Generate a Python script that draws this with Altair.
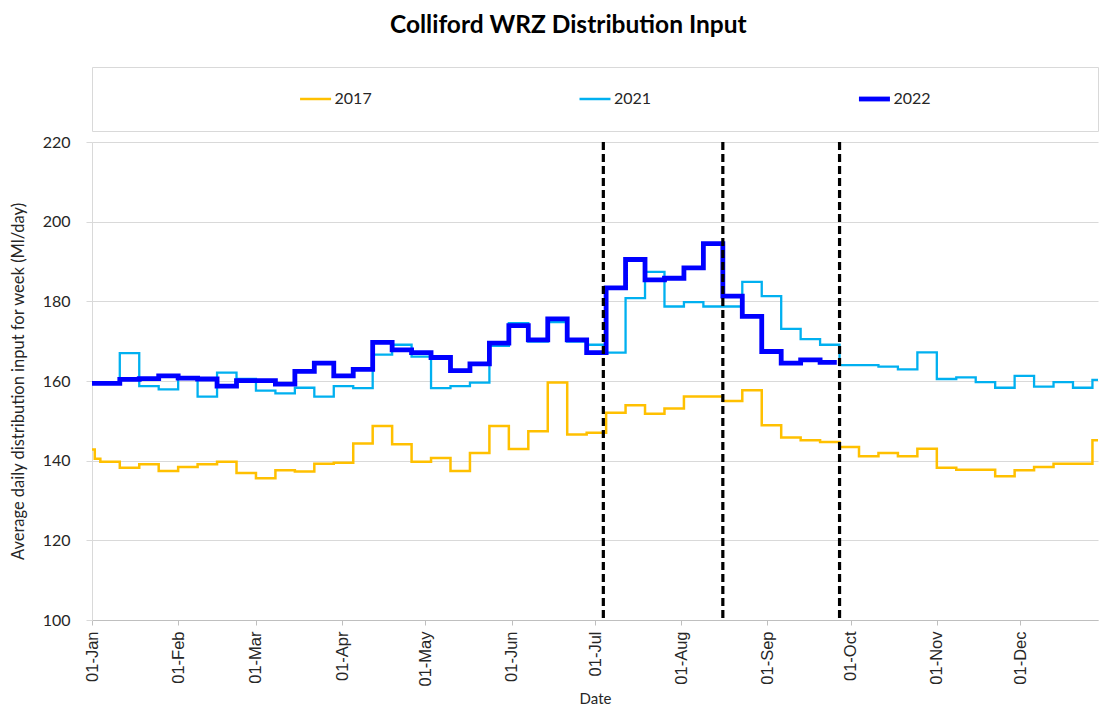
import altair as alt
import pandas as pd

chart_title = "Colliford WRZ Distribution Input"
y_title = "Average daily distribution input for week (Ml/day)"
x_title = "Date"

series_names = ["2017", "2021", "2022"]
series_colors = ["#FFC000", "#00B0F0", "#0000FF"]
series_widths = [2.5, 2.3, 4.8]

# weekly step start dates (Tuesday-starting weeks, mapped onto one calendar year)
week_starts = [d.strftime("%Y-%m-%dT00:00:00") for d in pd.date_range("2022-01-04", periods=52, freq="7D")]
year_start = "2022-01-01T00:00:00"
year_end = "2022-12-31T00:00:00"

# 2017: first days of January, then weekly values
head_2017_dates = ["2022-01-01T00:00:00", "2022-01-02T00:00:00"]
head_2017_values = [142.8, 140.5]
values_2017 = [139.7, 138.2, 139.1, 137.4, 138.4, 139.1, 139.7, 136.9, 135.6, 137.6,
               137.3, 139.2, 139.5, 144.3, 148.7, 144.1, 139.7, 140.7, 137.4, 141.9,
               148.7, 142.9, 147.4, 159.6, 146.6, 147.0, 152.0, 153.9, 151.8, 153.1,
               156.1, 156.1, 155.0, 157.7, 148.9, 145.8, 145.1, 144.7, 143.4, 141.1,
               141.9, 141.1, 143.0, 138.2, 137.7, 137.7, 136.1, 137.6, 138.4, 139.2,
               139.2, 145.1]

head_2021_value = 159.4
values_2021 = [159.4, 167.0, 158.7, 157.9, 160.7, 156.1, 162.1, 160.5, 157.6, 156.9,
               158.3, 156.1, 158.7, 158.2, 166.6, 169.1, 166.1, 158.2, 158.7, 159.6,
               168.8, 174.5, 169.9, 174.8, 169.9, 169.1, 167.1, 180.8, 187.4, 178.7,
               179.8, 178.7, 178.7, 184.9, 181.3, 173.1, 170.5, 169.1, 164.0, 164.0,
               163.6, 162.9, 167.2, 160.5, 160.9, 159.7, 158.3, 161.3, 158.6, 159.7,
               158.3, 160.3]

head_2022_value = 159.4
values_2022 = [159.4, 160.4, 160.6, 161.3, 160.7, 160.5, 158.7, 160.1, 160.1, 159.2,
               162.4, 164.5, 161.3, 162.9, 169.7, 167.8, 167.1, 165.9, 162.6, 164.3,
               169.5, 173.9, 170.3, 175.6, 170.3, 167.1, 183.4, 190.5, 185.4, 185.8,
               188.4, 194.5, 181.3, 176.2, 167.4, 164.5, 165.3, 164.7]
end_2022 = "2022-09-26T00:00:00"

marker_dates = ["2022-07-04T00:00:00", "2022-08-16T00:00:00", "2022-09-27T00:00:00"]

month_ticks = [alt.DateTime(year=2022, month=m, date=1) for m in range(1, 13)]

# ---------- build table ----------
rows = []
for d, v in zip(head_2017_dates, head_2017_values):
    rows.append({"date": d, "value": v, "series": "2017"})
for d, v in zip(week_starts, values_2017):
    rows.append({"date": d, "value": v, "series": "2017"})
rows.append({"date": year_end, "value": values_2017[-1], "series": "2017"})

rows.append({"date": year_start, "value": head_2021_value, "series": "2021"})
for d, v in zip(week_starts, values_2021):
    rows.append({"date": d, "value": v, "series": "2021"})
rows.append({"date": year_end, "value": values_2021[-1], "series": "2021"})

rows.append({"date": year_start, "value": head_2022_value, "series": "2022"})
for d, v in zip(week_starts, values_2022):
    rows.append({"date": d, "value": v, "series": "2022"})
rows.append({"date": end_2022, "value": values_2022[-1], "series": "2022"})

df = pd.DataFrame(rows)
markers = pd.DataFrame({"date": marker_dates})
legend_df = pd.DataFrame({"series": series_names, "row": ["r"] * 3})

W = 1006
H = 478

color_scale = alt.Scale(domain=series_names, range=series_colors)
x_scale = alt.Scale(domain=[alt.DateTime(year=2022, month=1, date=1),
                            alt.DateTime(year=2022, month=12, date=29)])

x_axis = alt.Axis(values=month_ticks, format="%d-%b", labelAngle=270,
                  labelFont="Liberation Sans", labelFontSize=16.5, labelColor="#262626",
                  labelPadding=6, domainColor="#bfbfbf", tickColor="#bfbfbf", tickSize=5,
                  grid=False, title=x_title, titleFont="Lato", titleFontSize=15,
                  titleFontWeight="normal", titleColor="#262626", titlePadding=5)
y_axis = alt.Axis(values=[100, 120, 140, 160, 180, 200, 220], grid=True, gridColor="#d9d9d9",
                  domainColor="#d9d9d9", tickColor="#d9d9d9", tickSize=6,
                  labelFont="Lato", labelFontSize=16, labelColor="#262626", labelPadding=16,
                  title=y_title, titleFont="Lato", titleFontSize=16.5, titleFontWeight="normal",
                  titleColor="#262626", titlePadding=16)

line_base = alt.Chart(df).encode(
    x=alt.X("date:T", scale=x_scale, axis=x_axis),
    y=alt.Y("value:Q", scale=alt.Scale(domain=[100, 220]), axis=y_axis),
    color=alt.Color("series:N", scale=color_scale, legend=None),
)
line_layers = [
    line_base.transform_filter(alt.datum.series == name).mark_line(
        interpolate="step-after", clip=True, strokeWidth=w)
    for name, w in zip(series_names, series_widths)
]

rules = alt.Chart(markers).mark_rule(color="black", strokeWidth=3.2, strokeDash=[8, 4]).encode(
    x=alt.X("date:T"),
)

main = alt.layer(*line_layers, rules).properties(width=W, height=H)

leg_base = alt.Chart(legend_df).encode(
    x=alt.X("series:N", axis=None, scale=alt.Scale(type="point", padding=0.80)),
    y=alt.Y("row:N", axis=None, scale=alt.Scale(type="point")),
)
leg_thin = leg_base.transform_filter("datum.series != '2022'").mark_tick(
    orient="horizontal", size=31, thickness=2.5, opacity=1).encode(
    color=alt.Color("series:N", scale=color_scale, legend=None))
leg_thick = leg_base.transform_filter("datum.series == '2022'").mark_tick(
    orient="horizontal", size=31, thickness=4.8, opacity=1).encode(
    color=alt.Color("series:N", scale=color_scale, legend=None))
leg_text = leg_base.mark_text(align="left", baseline="middle", dx=19, font="Lato",
                              fontSize=16, color="#262626").encode(text="series:N")
legend_panel = alt.layer(leg_thin, leg_thick, leg_text).properties(
    width=W, height=64, view=alt.ViewBackground(stroke="#d9d9d9", strokeWidth=1))

chart = alt.vconcat(legend_panel, main, spacing=2).properties(
    title=alt.TitleParams(chart_title, font="Lato", fontSize=24.5, fontWeight="bold",
                          color="black", anchor="middle", offset=28, dx=14),
    padding={"left": 2, "top": 5, "right": 5, "bottom": 0},
).configure_view(strokeWidth=0).resolve_scale(x="independent", y="independent")

chart.save("out.html", embed_options={"renderer": "svg", "actions": False})
